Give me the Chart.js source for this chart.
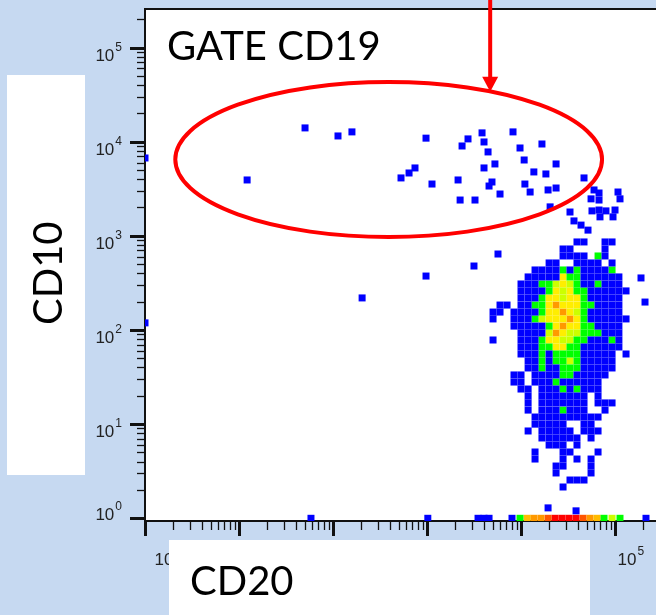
<!DOCTYPE html>
<html>
<head>
<meta charset="utf-8">
<script src="https://cdn.jsdelivr.net/npm/chart.js@4.4.1/dist/chart.umd.min.js"></script>
<style>
  html, body { margin: 0; padding: 0; background: #c6d9f1; }
  canvas { display: block; }
</style>
</head>
<body>
<canvas id="flow" width="656" height="615"></canvas>
<script>
// axis ticks: decades are labelled "10" with the exponent raised
const tickBase = '10';
const tickExps = ['0', '1', '2', '3', '4', '5'];
const minorSteps = [1, 2, 3, 4, 5, 6, 7, 8, 9];
const xRange = [1, 272900];
const yRange = [0.936, 256500];

// events, grouped by density colour  [CD20, CD10]
const bluePts = [
  // gate region and scattered events
  [1, 6710], [12.2, 3920], [50.4, 14000], [113, 11500], [159, 12700],
  [529, 4120], [644, 4650], [745, 5260], [976, 10900], [1130, 3550],
  [2140, 3920], [2250, 2400], [3240, 2400], [2730, 10700], [2360, 9000],
  [3850, 12400], [4040, 9930], [4460, 7780], [4040, 5260], [5280, 5800],
  [4570, 3380], [4910, 3730], [5980, 2780], [8220, 12700], [9760, 8570],
  [16700, 9450], [10800, 6390], [13700, 4770], [18400, 4540], [23600, 5800],
  [11000, 3550], [12500, 2920], [19400, 3070], [23600, 3220], [46800, 4120],
  [20400, 2030], [33200, 1790], [36600, 1440], [43500, 1300], [51600, 1150],
  [59800, 3070], [67600, 2850], [55600, 2470], [67600, 2400], [107600, 2920], [113000, 2470],
  [56900, 1840], [67600, 1880], [80100, 1840], [100000, 1880], [69200, 1590], [95200, 1590],
  [5690, 641], [3160, 478], [976, 374], [204, 219], [1, 119], [189000, 357], [208500, 198],
  [58.3, 1], [1020, 1], [3490, 1], [4040, 1], [4570, 1], [8020, 1], [19400, 1.29], [38500, 1.2], [213600, 1],
  // main CD20+ population
  [39400, 861], [46800, 861], [78300, 861], [93000, 861],
  [28000, 725], [33200, 725], [78300, 725],
  [28000, 611], [33200, 611], [39400, 611], [46800, 611], [78300, 611],
  [19900, 515], [23600, 515], [39400, 515], [46800, 515], [55600, 515], [66000, 515], [93000, 515],
  [14100, 434], [16700, 434], [19900, 434], [23600, 434], [33200, 434], [46800, 434], [55600, 434], [66000, 434], [78300, 434],
  [11900, 366], [14100, 366], [16700, 366], [19900, 366], [23600, 366], [46800, 366], [55600, 366], [66000, 366], [78300, 366], [93000, 366], [110000, 366],
  [10000, 308], [11900, 308], [14100, 308], [46800, 308], [55600, 308], [78300, 308], [93000, 308], [110000, 308],
  [10000, 260], [11900, 260], [14100, 260], [16700, 260], [55600, 260], [66000, 260], [78300, 260], [93000, 260], [110000, 260], [131000, 260],
  [10000, 219], [11900, 219], [14100, 219], [55600, 219], [66000, 219], [78300, 219], [93000, 219], [110000, 219],
  [5980, 184], [7100, 184], [10000, 184], [11900, 184], [66000, 184], [78300, 184], [93000, 184], [110000, 184],
  [5040, 155], [5980, 155], [8420, 155], [10000, 155], [11900, 155], [14100, 155], [55600, 155], [66000, 155], [78300, 155], [93000, 155], [110000, 155],
  [5040, 131], [8420, 131], [10000, 131], [11900, 131], [55600, 131], [66000, 131], [78300, 131], [93000, 131], [110000, 131], [131000, 131],
  [8420, 110], [10000, 110], [11900, 110], [14100, 110], [16700, 110], [66000, 110], [78300, 110], [93000, 110], [110000, 110],
  [10000, 92.9], [11900, 92.9], [14100, 92.9], [16700, 92.9], [78300, 92.9], [93000, 92.9], [110000, 92.9],
  [5040, 78.3], [10000, 78.3], [11900, 78.3], [14100, 78.3], [55600, 78.3], [66000, 78.3], [78300, 78.3], [110000, 78.3],
  [10000, 66], [11900, 66], [14100, 66], [46800, 66], [55600, 66], [66000, 66], [78300, 66], [93000, 66], [110000, 66],
  [10000, 55.6], [11900, 55.6], [14100, 55.6], [19900, 55.6], [46800, 55.6], [55600, 55.6], [66000, 55.6], [78300, 55.6], [93000, 55.6], [131000, 55.6],
  [11900, 46.9], [14100, 46.9], [19900, 46.9], [46800, 46.9], [55600, 46.9], [66000, 46.9], [78300, 46.9], [93000, 46.9],
  [11900, 39.5], [14100, 39.5], [19900, 39.5], [23600, 39.5], [46800, 39.5], [55600, 39.5], [66000, 39.5], [78300, 39.5], [93000, 39.5],
  [8420, 33.3], [10000, 33.3], [14100, 33.3], [16700, 33.3], [19900, 33.3], [23600, 33.3], [39400, 33.3], [46800, 33.3], [55600, 33.3], [66000, 33.3], [78300, 33.3],
  [8420, 28], [10000, 28], [14100, 28], [16700, 28], [19900, 28], [28000, 28], [33200, 28], [39400, 28], [46800, 28], [55600, 28], [66000, 28],
  [10000, 23.6], [11900, 23.6], [16700, 23.6], [19900, 23.6], [23600, 23.6], [33200, 23.6], [46800, 23.6], [55600, 23.6], [66000, 23.6],
  [11900, 19.9], [16700, 19.9], [19900, 19.9], [23600, 19.9], [28000, 19.9], [33200, 19.9], [39400, 19.9], [46800, 19.9], [66000, 19.9],
  [11900, 16.8], [16700, 16.8], [19900, 16.8], [23600, 16.8], [28000, 16.8], [33200, 16.8], [39400, 16.8], [46800, 16.8], [66000, 16.8], [78300, 16.8], [93000, 16.8],
  [11900, 14.1], [16700, 14.1], [19900, 14.1], [23600, 14.1], [33200, 14.1], [39400, 14.1], [46800, 14.1], [78300, 14.1],
  [14100, 11.9], [16700, 11.9], [19900, 11.9], [23600, 11.9], [28000, 11.9], [33200, 11.9], [39400, 11.9], [46800, 11.9], [55600, 11.9], [66000, 11.9],
  [14100, 10], [16700, 10], [19900, 10], [23600, 10], [28000, 10], [46800, 10], [55600, 10],
  [11900, 8.46], [16700, 8.46], [19900, 8.46], [23600, 8.46], [28000, 8.46], [33200, 8.46], [46800, 8.46], [55600, 8.46], [66000, 8.46],
  [16700, 7.13], [19900, 7.13], [23600, 7.13], [28000, 7.13], [33200, 7.13], [39400, 7.13], [55600, 7.13],
  [19900, 6], [23600, 6], [28000, 6], [39400, 6],
  [14100, 5.06], [28000, 5.06], [33200, 5.06], [66000, 5.06],
  [14100, 4.26], [28000, 4.26], [39400, 4.26], [55600, 4.26],
  [23600, 3.59], [28000, 3.59], [55600, 3.59],
  [23600, 3.03], [55600, 3.03],
  [33200, 2.55], [39400, 2.55], [46800, 2.55],
  [28000, 2.15]
];

const greenPts = [
  [66000, 611],
  [28000, 434], [39400, 434], [93000, 434],
  [33200, 366], [39400, 366],
  [16700, 308], [19900, 308], [39400, 308], [66000, 308],
  [19900, 260], [39400, 260], [46800, 260],
  [16700, 219], [46800, 219],
  [14100, 184], [16700, 184], [46800, 184], [55600, 184],
  [16700, 155], [46800, 155],
  [14100, 131], [46800, 131],
  [19900, 110], [46800, 110], [55600, 110],
  [46800, 92.9], [55600, 92.9], [66000, 92.9],
  [16700, 78.3], [39400, 78.3], [46800, 78.3], [93000, 78.3],
  [16700, 66], [19900, 66], [33200, 66], [39400, 66],
  [16700, 55.6], [23600, 55.6], [28000, 55.6], [33200, 55.6], [39400, 55.6],
  [16700, 46.9], [23600, 46.9], [28000, 46.9], [39400, 46.9],
  [16700, 39.5], [28000, 39.5], [33200, 39.5], [39400, 39.5],
  [28000, 33.3], [33200, 33.3],
  [23600, 28],
  [28000, 23.6], [39400, 23.6],
  [28000, 14.1],
  [9760, 1], [76400, 1], [113000, 1]
];

const limePts = [
  [23600, 308], [33200, 308],
  [28000, 260], [28000, 219],
  [39400, 155], [16700, 131],
  [19900, 92.9], [33200, 92.9], [39400, 92.9],
  [28000, 78.3], [33200, 78.3],
  [33200, 46.9],
  [93000, 1]
];

const yellowPts = [
  [28000, 366], [28000, 308],
  [23600, 260], [33200, 260],
  [19900, 219], [23600, 219], [33200, 219], [39400, 219],
  [19900, 184], [28000, 184], [33200, 184], [39400, 184],
  [19900, 155], [23600, 155], [33200, 155],
  [19900, 131], [23600, 131], [28000, 131], [39400, 131],
  [23600, 110], [33200, 110], [39400, 110],
  [28000, 92.9],
  [19900, 78.3], [23600, 78.3],
  [23600, 66], [28000, 66]
];

const goldPts = [[11600, 1], [64400, 1]];
const orangePts = [
  [23600, 184], [28000, 155], [33200, 131], [28000, 110], [23600, 92.9],
  [13700, 1], [16300, 1], [54200, 1]
];
const darkOrangePts = [[19400, 1], [45700, 1]];
const redPts = [[23000, 1], [27300, 1], [32400, 1], [38500, 1]];

// CD19 gate drawn around the CD10-bright events  (CD20 range, CD10 range)
const gateX = [2.1, 72800];
const gateY = [970, 43000];
const arrowAt = [4700, 34000];

function logTicks(scale) {
  const out = [];
  tickExps.forEach((lab, e) => {
    minorSteps.forEach(m => {
      const v = m * Math.pow(10, e);
      if (v >= scale.min * 0.999 && v <= scale.max) out.push({ value: v, major: m === 1 });
    });
  });
  scale.ticks = out;
}

function fixSize(prop, size) {
  return s => {
    s[prop] = size;
    s.paddingLeft = s.paddingRight = s.paddingTop = s.paddingBottom = 0;
  };
}

const labelFont = "17px 'Liberation Sans', Arial, sans-serif";
const expFont = "12px 'Liberation Sans', Arial, sans-serif";
const titleFont = "40px Lato, 'Open Sans', sans-serif";

function dotSet(data, color) {
  return {
    data: data,
    backgroundColor: color,
    pointStyle: 'rect',
    pointRadius: 4.95,
    pointHoverRadius: 4.95,
    borderWidth: 0,
    clip: 0
  };
}

// decade label, "10" plus a raised exponent
function decadeLabel(ctx, exp, left, base) {
  ctx.font = labelFont;
  ctx.fillText(tickBase, left, base);
  const w = ctx.measureText(tickBase).width;
  ctx.font = expFont;
  ctx.fillText(exp, left + w + 1, base - 10);
}

// white plot area, tick marks, labels, gate and the titles on top
const decorations = {
  id: 'decorations',
  beforeDraw(chart) {
    const { ctx, chartArea: a } = chart;
    ctx.save();
    ctx.fillStyle = '#c6d9f1';
    ctx.fillRect(0, 0, chart.width, chart.height);
    ctx.fillStyle = '#ffffff';
    ctx.fillRect(a.left, a.top, a.right - a.left, a.bottom - a.top);
    ctx.restore();
  },
  afterDraw(chart) {
    const { ctx, chartArea: a } = chart;
    const xs = chart.scales.x, ys = chart.scales.y;
    ctx.save();

    // frame top
    ctx.strokeStyle = '#111';
    ctx.lineWidth = 2;
    ctx.beginPath();
    ctx.moveTo(a.left, a.top);
    ctx.lineTo(a.right, a.top);
    ctx.stroke();

    // tick marks and decade labels
    ctx.fillStyle = '#222';
    ctx.textAlign = 'left';
    ctx.textBaseline = 'alphabetic';
    xs.ticks.forEach(t => {
      const p = Math.round(xs.getPixelForValue(t.value)) + 0.5;
      ctx.lineWidth = t.major ? 3 : 1.3;
      ctx.beginPath();
      ctx.moveTo(p, a.bottom);
      ctx.lineTo(p, a.bottom + (t.major ? 15 : 9));
      ctx.stroke();
      if (t.major) {
        const e = Math.round(Math.log10(t.value));
        decadeLabel(ctx, tickExps[e], p + (e === 0 ? 9 : 2), a.bottom + 44);
      }
    });
    ys.ticks.forEach(t => {
      const p = Math.round(ys.getPixelForValue(t.value)) + 0.5;
      ctx.lineWidth = t.major ? 3 : 1.3;
      ctx.beginPath();
      ctx.moveTo(a.left, p);
      ctx.lineTo(a.left - (t.major ? 15 : 8), p);
      ctx.stroke();
      if (t.major) {
        const e = Math.round(Math.log10(t.value));
        ctx.font = labelFont;
        const w = ctx.measureText(tickBase).width;
        ctx.font = expFont;
        const we = ctx.measureText(tickExps[e]).width;
        decadeLabel(ctx, tickExps[e], 122 - we - w - 1, p + (e === 0 ? 1 : 12.5));
      }
    });

    // gate ellipse
    const x0 = xs.getPixelForValue(gateX[0]), x1 = xs.getPixelForValue(gateX[1]);
    const y0 = ys.getPixelForValue(gateY[1]), y1 = ys.getPixelForValue(gateY[0]);
    ctx.strokeStyle = '#ff0000';
    ctx.lineWidth = 4;
    ctx.beginPath();
    ctx.ellipse((x0 + x1) / 2, (y0 + y1) / 2, (x1 - x0) / 2, (y1 - y0) / 2, 0, 0, Math.PI * 2);
    ctx.stroke();

    // arrow from the top
    const ax = xs.getPixelForValue(arrowAt[0]);
    const ay = ys.getPixelForValue(arrowAt[1]);
    ctx.beginPath();
    ctx.moveTo(ax, 0);
    ctx.lineTo(ax, ay - 12);
    ctx.stroke();
    ctx.fillStyle = '#ff0000';
    ctx.beginPath();
    ctx.moveTo(ax - 8, ay - 15);
    ctx.lineTo(ax + 8, ay - 15);
    ctx.lineTo(ax, ay);
    ctx.closePath();
    ctx.fill();

    // gate name
    ctx.fillStyle = '#000';
    ctx.font = titleFont;
    ctx.fillText('GATE CD19', 167, 60);

    // axis title boxes
    ctx.fillStyle = '#ffffff';
    ctx.fillRect(7, 75, 78, 400);
    ctx.fillRect(169, 540, 421, 75);
    ctx.fillStyle = '#000';
    ctx.fillText('CD20', 190, 595);
    ctx.translate(62, 325);
    ctx.rotate(-Math.PI / 2);
    ctx.fillText('CD10', 0, 0);
    ctx.restore();
  }
};

new Chart(document.getElementById('flow'), {
  type: 'scatter',
  data: {
    datasets: [
      dotSet(bluePts, '#0000ff'),
      dotSet(greenPts, '#00ff00'),
      dotSet(limePts, '#ccff00'),
      dotSet(yellowPts, '#ffee00'),
      dotSet(goldPts, '#ffbb00'),
      dotSet(orangePts, '#ff9900'),
      dotSet(darkOrangePts, '#ff5500'),
      dotSet(redPts, '#ff0000')
    ]
  },
  options: {
    responsive: false,
    devicePixelRatio: 1,
    animation: false,
    events: [],
    layout: { autoPadding: false, padding: { left: 0, top: 9, right: 0, bottom: 0 } },
    plugins: { legend: { display: false }, tooltip: { enabled: false } },
    scales: {
      x: {
        type: 'logarithmic',
        min: xRange[0],
        max: xRange[1],
        afterBuildTicks: logTicks,
        afterFit: fixSize('height', 94),
        grid: { display: false, drawTicks: false },
        border: { display: true, color: '#111', width: 2 },
        ticks: { display: false, autoSkip: false }
      },
      y: {
        type: 'logarithmic',
        min: yRange[0],
        max: yRange[1],
        afterBuildTicks: logTicks,
        afterFit: fixSize('width', 145),
        grid: { display: false, drawTicks: false },
        border: { display: true, color: '#111', width: 2 },
        ticks: { display: false, autoSkip: false }
      }
    }
  },
  plugins: [decorations]
});
</script>
</body>
</html>
